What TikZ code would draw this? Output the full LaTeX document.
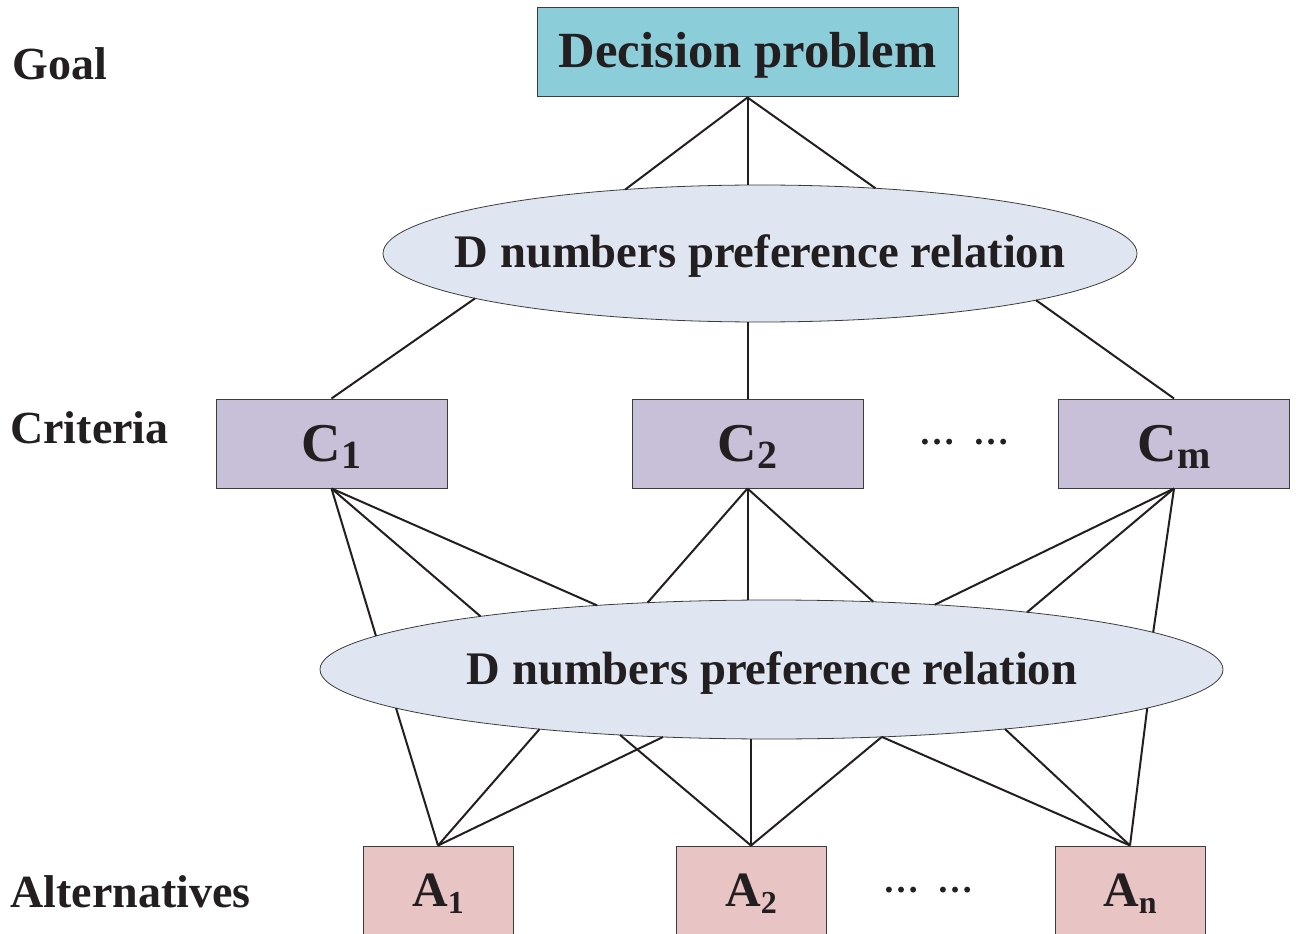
\documentclass[tikz,border=0pt]{standalone}
\usepackage{fontspec}
\setmainfont{Liberation Serif}
\usetikzlibrary{shapes.geometric,calc}

\definecolor{ink}{RGB}{35,31,32}
\definecolor{edge}{RGB}{60,60,60}
\definecolor{goalfill}{RGB}{139,205,216}
\definecolor{relfill}{RGB}{223,230,241}
\definecolor{critfill}{RGB}{200,192,216}
\definecolor{altfill}{RGB}{232,196,196}

% main letter with a lowered, smaller index
\newcommand\idx[3]{#1\raisebox{-5.25pt}{\fontsize{#3}{#3}\selectfont #2}}
% point on the rim of an ellipse node: name, node, x radius, y radius, direction (dx,dy)
\newcommand\rim[6]{\path let \n1={sqrt((#5/#3)^2+(#6/#4)^2)} in
  coordinate (#1) at ($(#2.center)+({#5/\n1},{#6/\n1})$);}

\begin{document}
\begin{tikzpicture}[x=0.75pt,y=-0.75pt,
  every node/.style={text=ink},
  box/.style={draw=edge, line width=0.75pt, inner sep=0pt, minimum height=66.75pt},
  goalbox/.style={box, fill=goalfill, minimum width=315.75pt,
    font=\fontsize{38}{38}\selectfont\bfseries, text height=25pt, text depth=1.75pt},
  critbox/.style={box, fill=critfill, minimum width=173.25pt,
    font=\fontsize{41}{41}\selectfont\bfseries, text height=28pt, text depth=1.75pt},
  altbox/.style={box, fill=altfill, minimum width=112.5pt,
    font=\fontsize{37}{37}\selectfont\bfseries, text height=25pt, text depth=1.75pt},
  relation/.style={ellipse, draw=edge, line width=0.6pt, fill=relfill, inner sep=0pt, outer sep=0pt},
  reltext/.style={anchor=base, inner sep=0pt, font=\fontsize{35}{35}\selectfont\bfseries},
  level/.style={anchor=base west, inner sep=0pt, font=\fontsize{34.5}{34.5}\selectfont\bfseries},
  dots/.style={inner sep=0pt, font=\fontsize{27}{27}\selectfont\bfseries},
  link/.style={draw=ink, line width=1.5pt}]

\useasboundingbox (0,0) rectangle (1296,934);

% level captions
\node[level] (goal) at (12,80) {Goal};
\node[level] (crit) at (10,443) {Criteria};
\node[level] (alt)  at (10,907) {Alternatives};

% goal
\node[goalbox] (dp) at (747.5,52.5) {Decision problem};

% first preference relation
\node[relation, minimum width=565.5pt, minimum height=102.75pt] (r1) at (760,253.5) {};
\node[reltext] (r1t) at (760,268) {D numbers preference relation};

% criteria
\node[critbox] (c1) at (331.5,443.5) {\idx{C}{1}{30}};
\node[critbox] (c2) at (747.5,443.5) {\idx{C}{2}{30}};
\node[critbox] (cm) at (1174,443.5) {\idx{C}{m}{30}};
\node[dots] (cdots) at (964,442) {…\hspace{0.5em}…};

% second preference relation
\node[relation, minimum width=677.25pt, minimum height=104.25pt] (r2) at (771.5,669.5) {};
\node[reltext] (r2t) at (772,684) {D numbers preference relation};

% alternatives
\node[altbox] (a1) at (438,890.5) {\idx{A}{1}{24}};
\node[altbox] (a2) at (751,890.5) {\idx{A}{2}{24}};
\node[altbox] (an) at (1130,890.5) {\idx{A}{n}{24}};
\node[dots] (adots) at (928,890) {…\hspace{0.5em}…};

% attachment points on the first relation
\rim{r1nw}{r1}{377}{68.5}{-138}{-65.5}
\rim{r1ne}{r1}{377}{68.5}{116}{-65.5}
\rim{r1sw}{r1}{377}{68.5}{-289}{45.5}
\rim{r1se}{r1}{377}{68.5}{275}{46.5}

% attachment points on the second relation, upper rim
\rim{u1}{r2}{451.5}{69.5}{-395.5}{-33.5}
\rim{u2}{r2}{451.5}{69.5}{-287.5}{-52.5}
\rim{u3}{r2}{451.5}{69.5}{-175.5}{-64.5}
\rim{u4}{r2}{451.5}{69.5}{-121.5}{-65.5}
\rim{u6}{r2}{451.5}{69.5}{98.5}{-65.5}
\rim{u7}{r2}{451.5}{69.5}{162.5}{-64.5}
\rim{u8}{r2}{451.5}{69.5}{256.5}{-57.5}
\rim{u9}{r2}{451.5}{69.5}{385.5}{-37.5}

% attachment points on the second relation, lower rim
\rim{l1}{r2}{451.5}{69.5}{-374.5}{38.5}
\rim{l2}{r2}{451.5}{69.5}{-231.5}{59.5}
\rim{l3}{r2}{451.5}{69.5}{-151.5}{65.5}
\rim{l4}{r2}{451.5}{69.5}{-108.5}{67.5}
\rim{l6}{r2}{451.5}{69.5}{110.5}{67.5}
\rim{l7}{r2}{451.5}{69.5}{233.5}{59.5}
\rim{l8}{r2}{451.5}{69.5}{375.5}{38.5}

% goal to first relation
\draw[link] (dp.south) -- (r1nw);
\draw[link] (dp.south) -- (dp.south |- r1.north);
\draw[link] (dp.south) -- (r1ne);

% first relation to criteria
\draw[link] (r1sw) -- (c1.north);
\draw[link] (c2.north |- r1.south) -- (c2.north);
\draw[link] (r1se) -- (cm.north);

% criteria to second relation
\draw[link] (c1.south) -- (u1);
\draw[link] (c1.south) -- (u2);
\draw[link] (c1.south) -- (u3);
\draw[link] (c2.south) -- (u4);
\draw[link] (c2.south) -- (c2.south |- r2.north);
\draw[link] (c2.south) -- (u6);
\draw[link] (cm.south) -- (u7);
\draw[link] (cm.south) -- (u8);
\draw[link] (cm.south) -- (u9);

% second relation to alternatives
\draw[link] (l1) -- (a1.north);
\draw[link] (l2) -- (a1.north);
\draw[link] (l4) -- (a1.north);
\draw[link] (l3) -- (a2.north);
\draw[link] (a2.north |- r2.south) -- (a2.north);
\draw[link] (l6) -- (a2.north);
\draw[link] (l6) -- (an.north);
\draw[link] (l7) -- (an.north);
\draw[link] (l8) -- (an.north);
\end{tikzpicture}
\end{document}
